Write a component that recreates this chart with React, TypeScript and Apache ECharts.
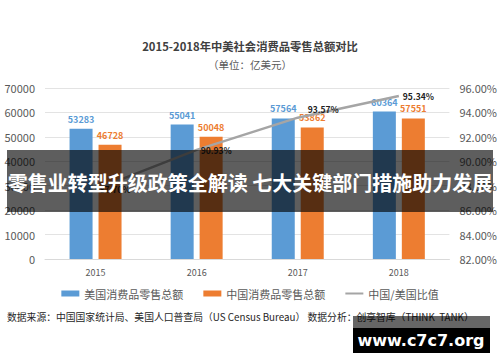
import React, { useEffect, useRef } from "react";
import * as echarts from "echarts";

const years = ["2015", "2016", "2017", "2018"];
const usRetail = [53283, 55041, 57564, 60364];
const cnRetail = [46728, 50048, 53862, 57551];
const ratio = [87.70, 90.93, 93.57, 95.34];
const leftTicks = { min: 0, max: 70000, interval: 10000 };
const rightTicks = { min: 82, max: 96, interval: 2 };

const FONT = "'Noto Sans CJK SC', 'Noto Sans', sans-serif";

export default function App() {
  const ref = useRef<HTMLDivElement>(null);
  useEffect(() => {
    if (!ref.current) return;
    const chart = echarts.init(ref.current, null, { renderer: "svg" });
    const ratioData = ratio.map((v, i) =>
      i === 2 ? { value: v, label: { offset: [6, -9] } } : v
    );
    chart.setOption({
      animation: false,
      backgroundColor: "#ffffff",
      textStyle: { fontFamily: FONT },
      grid: { left: 45, right: 47, top: 88, bottom: 103, containLabel: false },
      legend: {
        left: "center",
        top: 283,
        itemWidth: 18,
        itemHeight: 6,
        itemGap: 20,
        textStyle: { fontSize: 11, color: "#595959", fontFamily: FONT },
        data: [
          { name: "美国消费品零售总额", icon: "rect" },
          { name: "中国消费品零售总额", icon: "rect" },
          { name: "中国/美国比值", icon: "path://M0,0 L18,0 L18,2 L0,2 Z" },
        ],
      },
      xAxis: {
        type: "category",
        data: years,
        axisLine: { lineStyle: { color: "#D9D9D9" } },
        axisTick: { show: false },
        axisLabel: { fontSize: 9, color: "#595959", margin: 9 },
      },
      yAxis: [
        {
          type: "value",
          min: leftTicks.min,
          max: leftTicks.max,
          interval: leftTicks.interval,
          axisLine: { show: false },
          axisTick: { show: false },
          splitLine: { lineStyle: { color: "#E3E3E3" } },
          axisLabel: {
            fontSize: 11,
            color: "#595959",
            margin: 10,
            formatter: (v: number) => String(v),
          },
        },
        {
          type: "value",
          min: rightTicks.min,
          max: rightTicks.max,
          interval: rightTicks.interval,
          axisLine: { show: false },
          axisTick: { show: false },
          splitLine: { show: false },
          axisLabel: {
            fontSize: 11,
            color: "#595959",
            margin: 10,
            formatter: (v: number) => v.toFixed(2) + "%",
          },
        },
      ],
      series: [
        {
          name: "美国消费品零售总额",
          type: "bar",
          data: usRetail,
          barWidth: 23,
          barGap: "26%",
          itemStyle: { color: "#5B9BD5" },
          label: {
            show: true,
            position: "top",
            distance: 5,
            fontSize: 9,
            fontWeight: "bold",
            color: "#5B9BD5",
          },
        },
        {
          name: "中国消费品零售总额",
          type: "bar",
          data: cnRetail,
          barWidth: 23,
          barGap: "26%",
          itemStyle: { color: "#ED7D31" },
          label: {
            show: true,
            position: "top",
            distance: 5,
            fontSize: 9,
            fontWeight: "bold",
            color: "#ED7D31",
          },
        },
        {
          name: "中国/美国比值",
          type: "line",
          yAxisIndex: 1,
          data: ratioData,
          symbol: "circle",
          symbolSize: 0.01,
          showSymbol: true,
          lineStyle: { color: "#A5A5A5", width: 2.5 },
          itemStyle: { color: "#A5A5A5" },
          z: 5,
          label: {
            show: true,
            position: "right",
            distance: 4,
            fontSize: 8.5,
            fontWeight: "bold",
            color: "#222222",
            formatter: (p: any) => Number(p.value).toFixed(2) + "%",
          },
        },
      ],
      graphic: [
        {
          type: "text",
          left: "center",
          top: 40,
          style: {
            text: "2015-2018年中美社会消费品零售总额对比",
            fontSize: 11.3,
            fontWeight: "bold",
            fill: "#404040",
            fontFamily: FONT,
          },
        },
        {
          type: "text",
          left: "center",
          top: 59,
          style: {
            text: "（单位：亿美元）",
            fontSize: 10.5,
            fill: "#595959",
            fontFamily: FONT,
          },
        },
        {
          type: "text",
          left: 7,
          top: 312,
          style: {
            text: "数据来源：中国国家统计局、美国人口普查局（US Census Bureau） 数据分析：创享智库（THINK  TANK）",
            fontSize: 9.8,
            fill: "#262626",
            fontFamily: FONT,
          },
        },
        {
          type: "rect",
          z: 100,
          shape: { x: 7, y: 150, width: 486, height: 62 },
          style: { fill: "rgba(0,0,0,0.63)" },
        },
        {
          type: "text",
          z: 101,
          x: 250,
          y: 182,
          style: {
            text: "零售业转型升级政策全解读 七大关键部门措施助力发展",
            fontSize: 20,
            fontWeight: "bold",
            fill: "#ffffff",
            align: "center",
            verticalAlign: "middle",
            fontFamily: FONT,
          },
        },
        {
          type: "rect",
          z: 100,
          shape: { x: 353, y: 316, width: 137, height: 12 },
          style: { fill: "rgba(0,0,0,0.6)" },
        },
        {
          type: "rect",
          z: 100,
          shape: { x: 353, y: 328, width: 137, height: 25 },
          style: { fill: "#000000" },
        },
        {
          type: "text",
          z: 101,
          x: 421,
          y: 340,
          style: {
            text: "www.c7c7.org",
            fontSize: 16,
            fontWeight: "bold",
            fill: "#ffffff",
            align: "center",
            verticalAlign: "middle",
            fontFamily: "'DejaVu Sans', sans-serif",
          },
        },
      ],
    });
    return () => chart.dispose();
  }, []);
  return (
    <div
      ref={ref}
      style={{ position: "absolute", left: 0, top: 0, width: 500, height: 362 }}
    />
  );
}
